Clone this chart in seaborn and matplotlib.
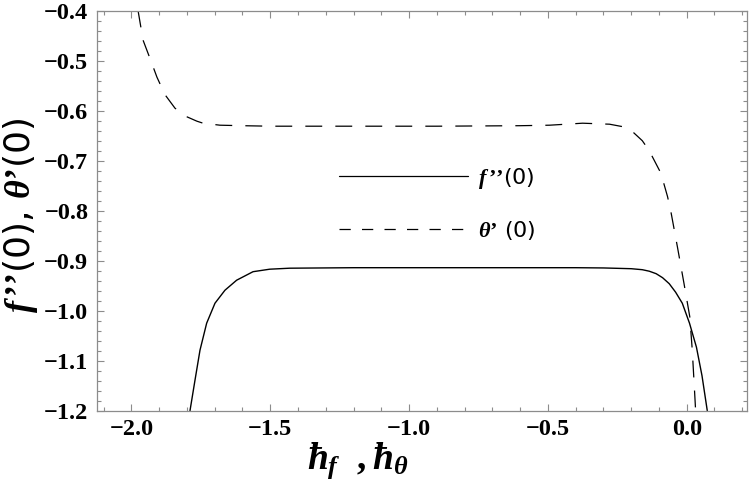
# plot.py
# Recreate the f''(0), theta'(0) vs h-curve chart with seaborn / matplotlib.

import numpy as np
import pandas as pd
import matplotlib
matplotlib.use("Agg")
import matplotlib.pyplot as plt
from matplotlib.ticker import MultipleLocator
import seaborn as sns

# ── data ─────────────────────────────────────────────────────────────────────
h_f = [-1.789, -1.771, -1.753, -1.729, -1.699, -1.663, -1.621, -1.562, -1.502,
       -1.430, -1.200, -0.800, -0.400, -0.300, -0.200, -0.160, -0.135, -0.110,
       -0.087, -0.063, -0.040, -0.016, 0.010, 0.035, 0.055, 0.074]
f_pp = [-1.200, -1.139, -1.079, -1.025, -0.985, -0.959, -0.939, -0.922, -0.917,
        -0.915, -0.914, -0.914, -0.914, -0.9145, -0.916, -0.918, -0.921, -0.926,
        -0.934, -0.946, -0.963, -0.985, -1.025, -1.073, -1.130, -1.200]

h_theta = [-1.976, -1.958, -1.930, -1.908, -1.879, -1.843, -1.801, -1.764, -1.742,
           -1.681, -1.600, -1.500, -1.200, -0.900, -0.600, -0.494, -0.375, -0.278,
           -0.230, -0.195, -0.160, -0.135, -0.093, -0.069, -0.056, -0.033, -0.010,
           0.011, 0.020, 0.030, 0.032]
theta_p = [-0.400, -0.459, -0.500, -0.533, -0.568, -0.595, -0.612, -0.621, -0.625,
           -0.629, -0.630, -0.631, -0.631, -0.631, -0.630, -0.629, -0.625, -0.627,
           -0.632, -0.642, -0.660, -0.680, -0.725, -0.772, -0.805, -0.874, -0.945,
           -1.012, -1.079, -1.179, -1.200]

x_ticks = [-2.0, -1.5, -1.0, -0.5, 0.0]
y_ticks = [-1.2, -1.1, -1.0, -0.9, -0.8, -0.7, -0.6, -0.5, -0.4]

df_f = pd.DataFrame({"h": h_f, "v": f_pp})
df_t = pd.DataFrame({"h": h_theta, "v": theta_p})

# ── style ────────────────────────────────────────────────────────────────────
sns.set_style("ticks")
plt.rcParams["font.family"] = ["Liberation Serif", "DejaVu Sans"]
plt.rcParams["mathtext.fontset"] = "custom"
plt.rcParams["mathtext.it"] = "Liberation Serif:italic:bold"
plt.rcParams["mathtext.rm"] = "Liberation Serif:bold"
plt.rcParams["mathtext.bf"] = "Liberation Serif:bold"
plt.rcParams["text.color"] = "black"
plt.rcParams["axes.labelcolor"] = "black"
plt.rcParams["xtick.labelcolor"] = "black"
plt.rcParams["ytick.labelcolor"] = "black"

AX_GREY = "#8c8c8c"
PRIME = "\u2019"

fig = plt.figure(figsize=(7.5, 5.03), dpi=100)
ax = fig.add_axes([96.7 / 750, (503 - 410.7) / 503, 650 / 750, 400 / 503])

sns.lineplot(data=df_f, x="h", y="v", ax=ax, color="black", lw=1.0,
             estimator=None, sort=False, label=f"$f\\,{PRIME}{PRIME}$(0)")
sns.lineplot(data=df_t, x="h", y="v", ax=ax, color="black", lw=0.9,
             estimator=None, sort=False, label=f"$\\theta{PRIME}$ (0)",
             linestyle=(0, (13.5, 10.5)))

ax.set_xlim(-2.125, 0.216)
ax.set_ylim(-1.2, -0.4)
ax.set_xticks(x_ticks)
ax.set_yticks(y_ticks)
ax.xaxis.set_minor_locator(MultipleLocator(0.1))
ax.yaxis.set_minor_locator(MultipleLocator(0.02))
ax.set_xticklabels([f"{t:.1f}".replace("-", "\u2212") for t in x_ticks])
ax.set_yticklabels([f"{t:.1f}".replace("-", "\u2212") for t in y_ticks])

for s in ax.spines.values():
    s.set_visible(True)
    s.set_color(AX_GREY)
    s.set_linewidth(0.9)

ax.tick_params(which="both", direction="in", top=True, right=True,
               color=AX_GREY, width=0.8)
ax.tick_params(which="major", length=5, labelsize=17.5, pad=6)
ax.tick_params(which="minor", length=3)
for lab in ax.get_xticklabels() + ax.get_yticklabels():
    lab.set_fontweight("bold")

ax.set_xlabel(r"$\hbar_f\ \ ,\hbar_\theta$", fontsize=27)
ax.xaxis.set_label_coords(0.402, -0.075)
ax.set_ylabel(f"$f\\,{PRIME}{PRIME}$(0), $\\theta{PRIME}$(0)", fontsize=26,
              fontfamily=["DejaVu Sans"])
ax.yaxis.set_label_coords(-0.088, 0.49)

leg = ax.legend(loc="upper left", bbox_to_anchor=(0.356, 0.64), frameon=False,
                handlelength=5.8, handletextpad=0.45, labelspacing=1.25,
                borderpad=0, prop={"family": "DejaVu Sans", "size": 16})
leg.get_lines()[0].set_linewidth(0.9)
leg.get_lines()[1].set_linestyle((0, (9, 9)))

fig.savefig("out.png", dpi=100)
